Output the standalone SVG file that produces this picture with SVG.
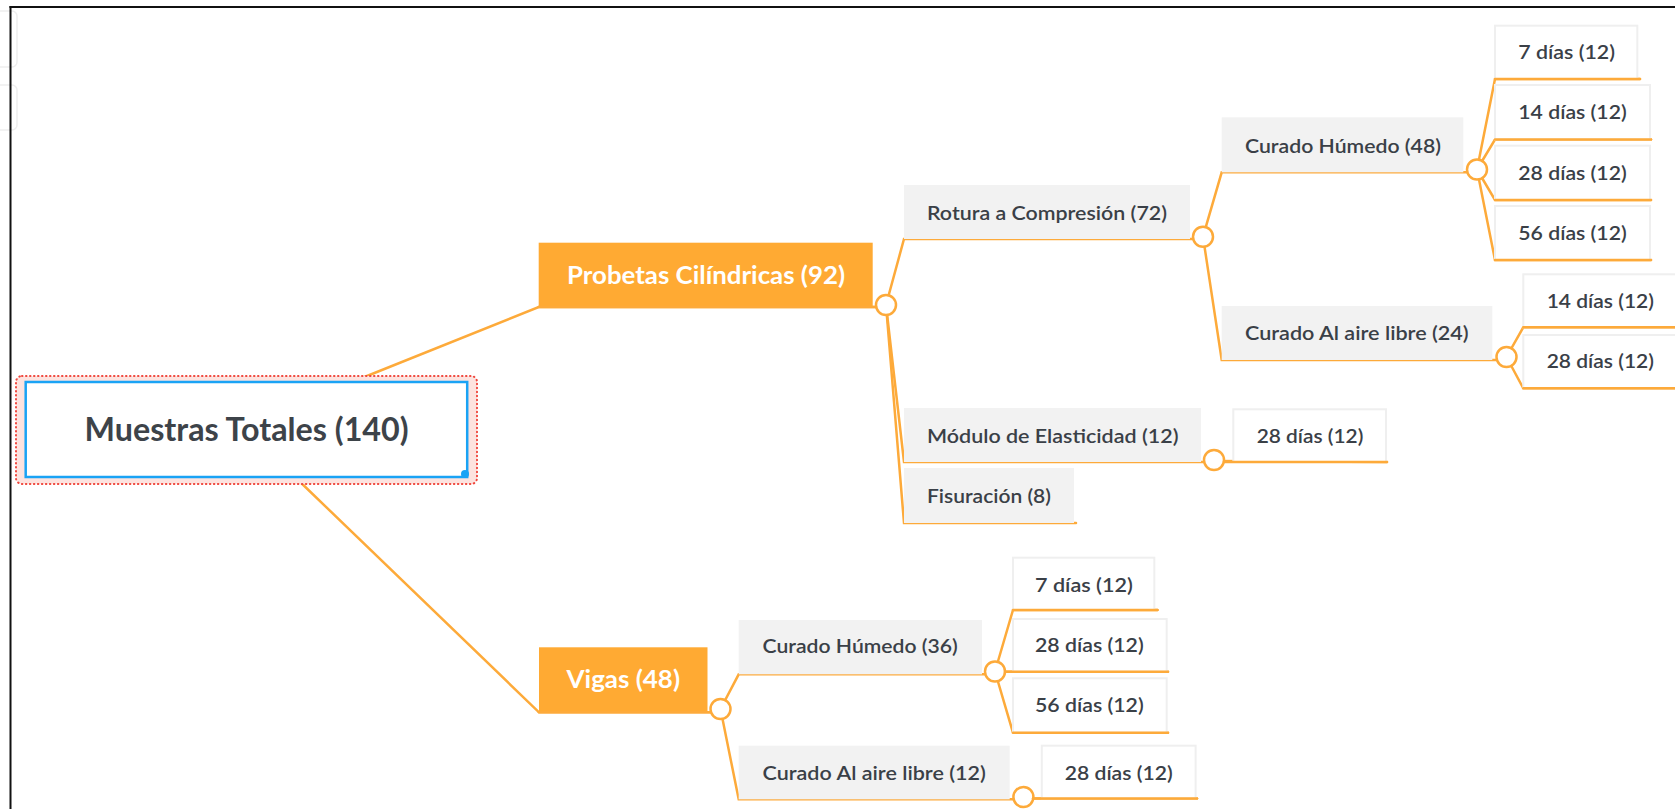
<svg xmlns="http://www.w3.org/2000/svg" width="1675" height="809" viewBox="0 0 1675 809">
<style>
  .t { font-family: Lato, "Open Sans", "Liberation Sans", sans-serif; fill: #3a4047; font-size: 20px; font-weight: 600; }
  .tw { font-family: Lato, "Open Sans", "Liberation Sans", sans-serif; fill: #ffffff; font-size: 24px; font-weight: 700; }
  .tr { font-family: Lato, "Open Sans", "Liberation Sans", sans-serif; fill: #3d4349; font-size: 32px; font-weight: 700; }
  .gray { fill: #f2f2f2; }
  .leaf { fill: #ffffff; stroke: #efefef; stroke-width: 2; }
  .main { fill: #ffaa33; }
  .ln { stroke: #fdaa3a; stroke-width: 2.5; fill: none; stroke-linecap: round; }
  .knob { fill: #ffffff; stroke: #fdaa3a; stroke-width: 2.5; }
</style>

<rect width="1675" height="809" fill="#ffffff"/>
<!-- frame -->
<g id="frame">
  <rect x="-10" y="11" width="27" height="56" rx="5" fill="none" stroke="#eeeeee" stroke-width="1.5"/>
  <rect x="-10" y="85" width="27" height="45" rx="5" fill="none" stroke="#eeeeee" stroke-width="1.5"/>
  <line x1="10.5" y1="6" x2="10.5" y2="809" stroke="#111111" stroke-width="2"/>
  <line x1="9.5" y1="7" x2="1675" y2="7" stroke="#111111" stroke-width="2"/>
</g>

<!-- connectors -->
<g id="connectors">
  <!-- root -> Probetas -->
  <polyline class="ln" points="357,380 538.7,307 878,307"/>
  <!-- root -> Vigas -->
  <polyline class="ln" points="296,478 539,712.3 712,712.3"/>
  <!-- Probetas -> children -->
  <polyline class="ln" points="886,305 904,239 1194,239"/>
  <polyline class="ln" points="886,305 904,462 1205,462"/>
  <polyline class="ln" points="886,305 904,523 1076,523"/>
  <!-- Rotura -> children -->
  <polyline class="ln" points="1203,236.7 1221.7,172.3 1468,172.3"/>
  <polyline class="ln" points="1203,236.7 1221.7,360 1497,360"/>
  <!-- Curado Humedo 48 -> leaves -->
  <polyline class="ln" points="1477,169.5 1495,79 1640,79"/>
  <polyline class="ln" points="1477,169.5 1495,139.5 1651,139.5"/>
  <polyline class="ln" points="1477,169.5 1495,200 1651,200"/>
  <polyline class="ln" points="1477,169.5 1495,260 1651,260"/>
  <!-- Curado Aire 24 -> leaves -->
  <polyline class="ln" points="1506.5,357 1523.3,327.3 1676,327.3"/>
  <polyline class="ln" points="1506.5,357 1523.3,388.3 1676,388.3"/>
  <!-- Modulo -> leaf -->
  <polyline class="ln" points="1214,461 1387,462"/>
  <!-- Vigas -> children -->
  <polyline class="ln" points="720.5,709 738.7,674.3 986,674.3"/>
  <polyline class="ln" points="720.5,709 738.7,799.3 1014,799.3"/>
  <!-- Curado Humedo 36 -> leaves -->
  <polyline class="ln" points="995,671.5 1013,610 1157.5,610"/>
  <polyline class="ln" points="995,671.7 1168,671.7"/>
  <polyline class="ln" points="995,671.5 1013,732.7 1168,732.7"/>
  <!-- Curado Aire 12 -> leaf -->
  <polyline class="ln" points="1023.4,798.5 1197,798.5"/>
</g>

<!-- root -->
<g id="root">
  <rect x="16" y="376" width="461" height="108" rx="6" fill="#fde3df" stroke="#f0463c" stroke-width="2" stroke-dasharray="0.5 3.5" stroke-linecap="round"/>
  <rect x="25.7" y="382" width="441.5" height="95" fill="#ffffff" stroke="#1aa3f5" stroke-width="2.5"/>
  <circle cx="465" cy="474" r="4" fill="#1aa3f5"/>
  <text class="tr" x="84.6" y="441" textLength="324" lengthAdjust="spacingAndGlyphs">Muestras Totales (140)</text>
</g>

<g id="probetas">
  <rect class="main" x="538.7" y="242.7" width="334" height="64"/>
  <text class="tw" x="567" y="284" textLength="278" lengthAdjust="spacingAndGlyphs">Probetas Cilíndricas (92)</text>
  <circle class="knob" cx="886" cy="305" r="10"/>
</g>

<g id="rotura">
  <rect class="gray" x="904" y="185" width="286" height="54"/>
  <text class="t" x="927" y="220" textLength="240" lengthAdjust="spacingAndGlyphs">Rotura a Compresión (72)</text>
  <circle class="knob" cx="1203" cy="236.7" r="10"/>
</g>

<g id="curado-humedo-48">
  <rect class="gray" x="1221.7" y="117.3" width="241.6" height="55"/>
  <text class="t" x="1245" y="152.7" textLength="196" lengthAdjust="spacingAndGlyphs">Curado Húmedo (48)</text>
  <circle class="knob" cx="1477" cy="169.5" r="10"/>
</g>

<g id="ch48-7">
  <rect class="leaf" x="1495" y="25.7" width="142.3" height="53.3"/>
  <text class="t" x="1518.3" y="59" textLength="96.7" lengthAdjust="spacingAndGlyphs">7 días (12)</text>
</g>
<g id="ch48-14">
  <rect class="leaf" x="1495" y="85" width="155" height="54.5"/>
  <text class="t" x="1518.3" y="119.3" textLength="108.4" lengthAdjust="spacingAndGlyphs">14 días (12)</text>
</g>
<g id="ch48-28">
  <rect class="leaf" x="1495" y="145.7" width="155" height="54.3"/>
  <text class="t" x="1518.3" y="180" textLength="108.4" lengthAdjust="spacingAndGlyphs">28 días (12)</text>
</g>
<g id="ch48-56">
  <rect class="leaf" x="1495" y="206" width="155" height="54"/>
  <text class="t" x="1518.3" y="240" textLength="108.4" lengthAdjust="spacingAndGlyphs">56 días (12)</text>
</g>

<g id="curado-aire-24">
  <rect class="gray" x="1221.7" y="306" width="270.6" height="54"/>
  <text class="t" x="1245" y="340" textLength="223.7" lengthAdjust="spacingAndGlyphs">Curado Al aire libre (24)</text>
  <circle class="knob" cx="1506.5" cy="357" r="10"/>
</g>
<g id="ca24-14">
  <rect class="leaf" x="1523.3" y="274.3" width="170" height="53"/>
  <text class="t" x="1546.7" y="307.5" textLength="107.3" lengthAdjust="spacingAndGlyphs">14 días (12)</text>
</g>
<g id="ca24-28">
  <rect class="leaf" x="1523.3" y="335" width="170" height="53.3"/>
  <text class="t" x="1546.7" y="367.5" textLength="107.3" lengthAdjust="spacingAndGlyphs">28 días (12)</text>
</g>

<g id="modulo">
  <rect class="gray" x="904" y="408" width="297" height="54"/>
  <text class="t" x="927" y="443" textLength="251.5" lengthAdjust="spacingAndGlyphs">Módulo de Elasticidad (12)</text>
  <circle class="knob" cx="1214" cy="460" r="10"/>
</g>
<g id="mod-28">
  <rect class="leaf" x="1233.3" y="409.3" width="152.7" height="52.7"/>
  <text class="t" x="1256.7" y="442.7" textLength="106.6" lengthAdjust="spacingAndGlyphs">28 días (12)</text>
</g>

<g id="fisuracion">
  <rect class="gray" x="904" y="468" width="170" height="55"/>
  <text class="t" x="927" y="503" textLength="124" lengthAdjust="spacingAndGlyphs">Fisuración (8)</text>
</g>

<g id="vigas">
  <rect class="main" x="539" y="647.3" width="168.5" height="65"/>
  <text class="tw" x="566.6" y="688.3" textLength="113.4" lengthAdjust="spacingAndGlyphs">Vigas (48)</text>
  <circle class="knob" cx="720.5" cy="709" r="10"/>
</g>

<g id="curado-humedo-36">
  <rect class="gray" x="738.7" y="620" width="243.3" height="54.3"/>
  <text class="t" x="762.6" y="653.3" textLength="195.2" lengthAdjust="spacingAndGlyphs">Curado Húmedo (36)</text>
  <circle class="knob" cx="995" cy="671.5" r="10"/>
</g>
<g id="ch36-7">
  <rect class="leaf" x="1013" y="557.7" width="141.3" height="52.3"/>
  <text class="t" x="1035" y="591.7" textLength="97.8" lengthAdjust="spacingAndGlyphs">7 días (12)</text>
</g>
<g id="ch36-28">
  <rect class="leaf" x="1013" y="619" width="153.7" height="52.7"/>
  <text class="t" x="1035" y="651.7" textLength="108.7" lengthAdjust="spacingAndGlyphs">28 días (12)</text>
</g>
<g id="ch36-56">
  <rect class="leaf" x="1013" y="678.3" width="153.7" height="54.4"/>
  <text class="t" x="1035" y="712.3" textLength="108.7" lengthAdjust="spacingAndGlyphs">56 días (12)</text>
</g>

<g id="curado-aire-12">
  <rect class="gray" x="738.7" y="745.7" width="271" height="53.6"/>
  <text class="t" x="762.6" y="780" textLength="223.2" lengthAdjust="spacingAndGlyphs">Curado Al aire libre (12)</text>
  <circle class="knob" cx="1023.4" cy="797" r="10"/>
</g>
<g id="ca12-28">
  <rect class="leaf" x="1041.8" y="745.7" width="153.8" height="52.6"/>
  <text class="t" x="1064.7" y="780" textLength="108" lengthAdjust="spacingAndGlyphs">28 días (12)</text>
</g>

<!-- redraw horizontal bottom lines over leaf borders -->
<g id="underlines">
  <line class="ln" x1="1495" y1="79" x2="1640" y2="79"/>
  <line class="ln" x1="1495" y1="139.5" x2="1651" y2="139.5"/>
  <line class="ln" x1="1495" y1="200" x2="1651" y2="200"/>
  <line class="ln" x1="1495" y1="260" x2="1651" y2="260"/>
  <line class="ln" x1="1523.3" y1="327.3" x2="1676" y2="327.3"/>
  <line class="ln" x1="1523.3" y1="388.3" x2="1676" y2="388.3"/>
  <line class="ln" x1="1224" y1="462" x2="1387" y2="462"/>
  <line class="ln" x1="1013" y1="610" x2="1157.5" y2="610"/>
  <line class="ln" x1="1005" y1="671.7" x2="1168" y2="671.7"/>
  <line class="ln" x1="1013" y1="732.7" x2="1168" y2="732.7"/>
  <line class="ln" x1="1033" y1="798.5" x2="1197" y2="798.5"/>
  <line class="ln" x1="538.7" y1="307" x2="876" y2="307"/>
  <line class="ln" x1="539" y1="712.3" x2="710.5" y2="712.3"/>
</g>
</svg>
